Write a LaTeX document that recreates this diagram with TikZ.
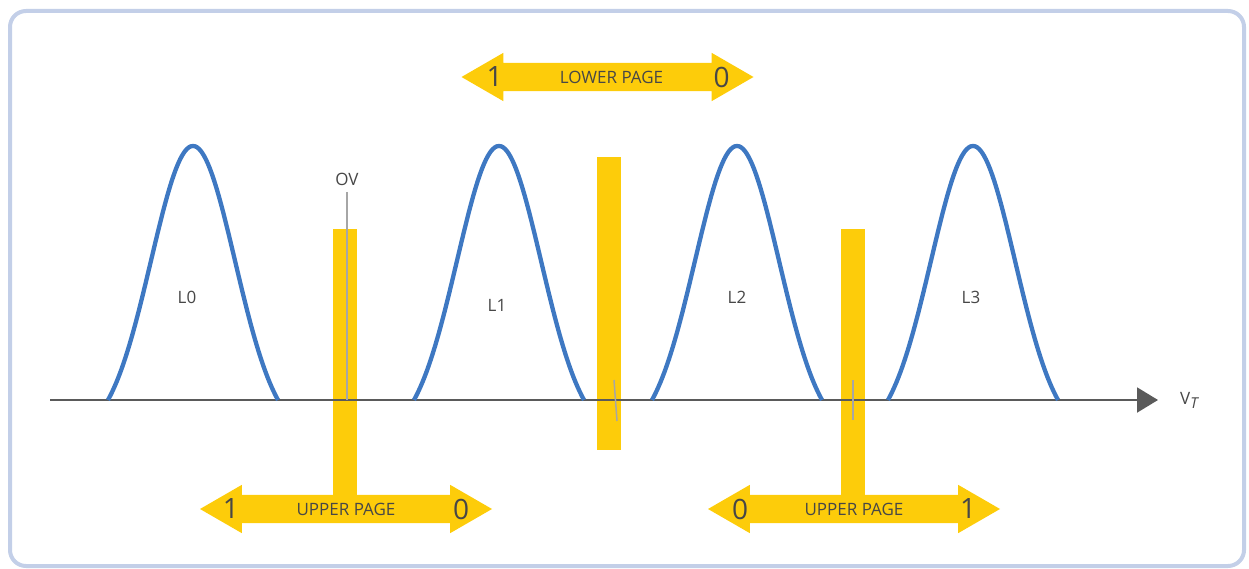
\documentclass[tikz,border=0pt]{standalone}
\usepackage{fontspec}
\setmainfont{Open Sans}
\usepackage{xcolor}
\definecolor{vtframe}{HTML}{C3CFE8}
\definecolor{vtblue}{HTML}{3E78C2}
\definecolor{vtyellow}{HTML}{FDCC0A}
\definecolor{vtaxis}{HTML}{5A5A5A}
\definecolor{vtink}{HTML}{474747}
\definecolor{vtrule}{HTML}{A6A6A6}
\usetikzlibrary{arrows.meta,positioning,calc,shapes.arrows}
\tikzset{
  vtbar/.style   ={rectangle, fill=vtyellow, minimum width=24pt, inner sep=0pt},
  vtpage/.style  ={double arrow, fill=vtyellow, minimum width=0pt, minimum height=292pt,
                   double arrow head extend=10pt, double arrow tip angle=60,
                   inner xsep=0pt, inner ysep=14pt},
  vtlbl/.style   ={font=\fontsize{17}{20}\selectfont, text=vtink, inner sep=0pt},
  vtbit/.style   ={font=\fontsize{28}{32}\selectfont, text=vtink, inner sep=0pt},
  vtbell/.style  ={draw=vtblue, line width=4.3pt, line join=round},
  vtread/.style  ={draw=vtrule, line width=1.5pt},
  vtaxisline/.style={-{Triangle[length=21pt,width=25pt]}, draw=vtaxis, fill=vtaxis, line width=2pt},
}
\newcommand{\vtcurve}[1]{%
  \draw[vtbell] plot[domain=-85:85, samples=81]
    ({#1+\x}, {400-254*(exp(-\x*\x/3528)-0.129)/0.871});}

\begin{document}
\begin{tikzpicture}[x=1pt, y=-1pt]
  \useasboundingbox (0,0) rectangle (1249,569);
  \draw[vtframe, line width=4pt, rounded corners=16pt] (10,11) rectangle (1244,566);
  % read levels
  \node[vtbar, minimum height=280pt] (r1) at (345,369) {};
  \node[vtbar, minimum height=293pt] (r2) at (609,303.5) {};
  \node[vtbar, minimum height=280pt] (r3) at (853,369) {};
  % page arrows
  \node[vtpage] (lp) at (607.5,77) {};
  \node[vtpage] (up1) at (346,509) {};
  \node[vtpage] (up2) at (854,509) {};
  \node[vtlbl] at ($(lp.center)+(4,0)$) {LOWER PAGE};
  \node[vtbit] at ($(lp.center)+(-113,0)$) {1};
  \node[vtbit] at ($(lp.center)+(114,0)$) {0};
  \node[vtlbl] at (up1.center) {UPPER PAGE};
  \node[vtbit] at ($(up1.center)+(-115,0)$) {1};
  \node[vtbit] at ($(up1.center)+(115,0)$) {0};
  \node[vtlbl] at (up2.center) {UPPER PAGE};
  \node[vtbit] at ($(up2.center)+(-114,0)$) {0};
  \node[vtbit] at ($(up2.center)+(114,0)$) {1};
  % axis
  \coordinate (o) at (50,400);
  \coordinate (e) at (1158,400);
  \draw[vtaxisline] (o) -- (e);
  \node[vtlbl, anchor=west] (vt) at (1180,400) {V\raisebox{-0.45ex}{\fontsize{15}{17}\selectfont\itshape T}};
  % threshold marks
  \node[vtlbl, anchor=south] (ov) at (347,186) {OV};
  \coordinate (ovb) at (347,400);
  \draw[vtread] (ov.south) ++(0,6) -- (ovb);
  \coordinate (m2a) at (614,380);
  \coordinate (m2b) at (617,421);
  \draw[vtread] (m2a) -- (m2b);
  \coordinate (m3a) at (853,380);
  \coordinate (m3b) at (853,420);
  \draw[vtread] (m3a) -- (m3b);
  % cell distributions
  \vtcurve{193}
  \vtcurve{499}
  \vtcurve{737}
  \vtcurve{973}
  \node[vtlbl] (l0) at (187,297) {L0};
  \node[vtlbl] (l1) at (497,305) {L1};
  \node[vtlbl] (l2) at (737,297) {L2};
  \node[vtlbl] (l3) at (971,297) {L3};
\end{tikzpicture}
\end{document}
